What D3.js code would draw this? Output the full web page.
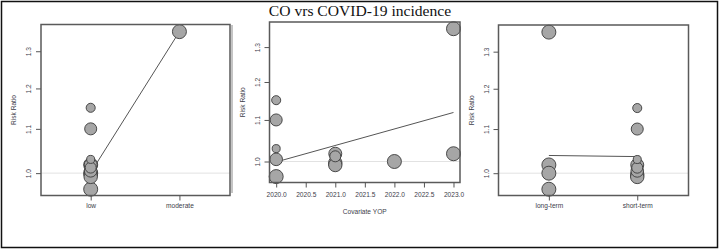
<html>
<head>
<script src="https://d3js.org/d3.v7.min.js"></script>
<style>
    body { margin: 0; background: #fff; }
    .box { fill: none; stroke: #5a5a5a; stroke-width: 1.5px; }
    .refline { stroke: #e2e2e2; stroke-width: 1px; }
    .fit { stroke: #555; stroke-width: 1px; fill: none; }
    .pt { fill: #a6a6a6; stroke: #3a3a3a; stroke-width: 0.9px; }
    .lbl { font-family: "Liberation Sans", Arial, sans-serif; font-size: 6.6px; fill: #3d3d4a; }
</style>
</head>
<body>
<svg id="chart" width="719" height="250"></svg>
<script>
// study-level data
const riskRatio = [1.356, 1.018, 1.000, 0.966, 1.151, 1.100, 1.030, 1.005, 1.018, 1.012, 0.997, 0.992];
const weight    = [10, 10, 10, 10, 4.2, 7.4, 3.3, 8.1, 8.6, 6.2, 9.2, 9.2];
const exposure  = ["moderate", "low", "low", "low", "low", "low", "low", "low", "low", "low", "low", "low"];
const yop       = [2023, 2023, 2022, 2020, 2020, 2020, 2020, 2020, 2021, 2021, 2021, 2021];
const term      = ["long-term", "long-term", "long-term", "long-term", "short-term", "short-term", "short-term",
                   "short-term", "short-term", "short-term", "short-term", "short-term"];

const exposureLevels = ["low", "moderate"];
const termLevels = ["long-term", "short-term"];
const yopTicks = [2020.0, 2020.5, 2021.0, 2021.5, 2022.0, 2022.5, 2023.0];
const rrTicks = [1.0, 1.1, 1.2, 1.3];

// fitted values from the meta-regressions
const fitExposure = [1.001, 1.356];
const fitYopX = [2020, 2023];
const fitYop = [0.999, 1.119];
const fitTerm = [1.039, 1.0365];

const svg = d3.select("#chart");

svg.append("rect").attr("x", 1.5).attr("y", 1.5).attr("width", 716).attr("height", 246)
    .attr("fill", "none").attr("stroke", "#111").attr("stroke-width", 1.5);

svg.append("line").attr("x1", 232).attr("x2", 232).attr("y1", 25).attr("y2", 193)
    .attr("stroke", "#8a8a8a").attr("stroke-width", 1);

svg.append("text")
    .attr("x", 360).attr("y", 16)
    .attr("text-anchor", "middle")
    .style("font-family", "'Liberation Serif', 'Times New Roman', serif")
    .style("font-size", "15.6px")
    .attr("fill", "#111")
    .text("CO vrs COVID-19 incidence");

const rScale = d3.scaleSqrt().domain([0, 10]).range([0, 7]);

const studies = riskRatio.map((v, i) => ({
    rr: v, w: weight[i], exposure: exposure[i], yop: yop[i], term: term[i]
}));

function drawPanel(p) {
    const x = p.x;
    const y = d3.scaleLog().domain([0.953, 1.377]).range([p.y1, p.y0]);
    const g = svg.append("g");

    g.append("line").attr("class", "refline")
        .attr("x1", p.x0).attr("x2", p.x1)
        .attr("y1", y(1)).attr("y2", y(1));

    g.append("path").attr("class", "fit")
        .datum(p.fit)
        .attr("d", d3.line().x(d => d[0]).y(d => y(d[1])));

    // bigger points first so small ones stay visible
    const pts = studies.slice().sort((a, b) => b.w - a.w);
    g.selectAll("circle.pt").data(pts).join("circle")
        .attr("class", "pt")
        .attr("cx", d => x(p.key(d)))
        .attr("cy", d => y(d.rr))
        .attr("r", d => rScale(d.w));

    g.append("rect").attr("class", "box")
        .attr("x", p.x0).attr("y", p.y0)
        .attr("width", p.x1 - p.x0).attr("height", p.y1 - p.y0);

    // y axis
    const ya = g.append("g").attr("transform", `translate(${p.x0},0)`)
        .call(d3.axisLeft(y).tickValues(rrTicks).tickSize(5).tickFormat(d3.format(".1f")));
    ya.select(".domain").remove();
    ya.selectAll(".tick line").attr("stroke", "#555");
    ya.selectAll(".tick text")
        .attr("class", "lbl")
        .attr("x", null).attr("dy", null)
        .attr("text-anchor", "middle")
        .attr("transform", "translate(-10,0) rotate(-90)")
        .attr("y", 0);

    // x axis
    const xa = g.append("g").attr("transform", `translate(0,${p.y1})`)
        .call(d3.axisBottom(x).tickValues(p.ticks).tickSize(5).tickFormat(p.fmt));
    xa.select(".domain").remove();
    xa.selectAll(".tick line").attr("stroke", "#555");
    xa.selectAll(".tick text").attr("class", "lbl").attr("y", p.xlabY).attr("dy", null);

    g.append("text").attr("class", "lbl")
        .attr("text-anchor", "middle")
        .attr("transform", `translate(${p.ylabX},${(p.y0 + p.y1) / 2}) rotate(-90)`)
        .text("Risk Ratio");

    if (p.xTitle) {
        g.append("text").attr("class", "lbl")
            .attr("text-anchor", "middle")
            .attr("x", (p.x0 + p.x1) / 2).attr("y", p.xTitleY)
            .text(p.xTitle);
    }
}

// panel 1: exposure level
const xExp = d3.scaleLinear().domain([0.44, 2.57]).range([41, 230]);
drawPanel({
    x0: 41, x1: 230, y0: 24.5, y1: 195.5,
    x: xExp,
    key: d => exposureLevels.indexOf(d.exposure) + 1,
    ticks: [1, 2], fmt: (d) => exposureLevels[d - 1],
    fit: fitExposure.map((v, i) => [xExp(i + 1), v]),
    ylabX: 16, xlabY: 12
});

// panel 2: year of publication
const xYop = d3.scaleLinear().domain([2019.887, 2023.11]).range([269.5, 460]);
drawPanel({
    x0: 269.5, x1: 460, y0: 22, y1: 182.5,
    x: xYop,
    key: d => d.yop,
    ticks: yopTicks, fmt: d3.format(".1f"),
    fit: fitYop.map((v, i) => [xYop(fitYopX[i]), v]),
    ylabX: 245, xlabY: 14,
    xTitle: "Covariate YOP", xTitleY: 214
});

// panel 3: exposure duration
const xTerm = d3.scaleLinear().domain([0.43, 2.58]).range([498.5, 688.5]);
drawPanel({
    x0: 498.5, x1: 688.5, y0: 25, y1: 195.5,
    x: xTerm,
    key: d => termLevels.indexOf(d.term) + 1,
    ticks: [1, 2], fmt: (d) => termLevels[d - 1],
    fit: fitTerm.map((v, i) => [xTerm(i + 1), v]),
    ylabX: 474, xlabY: 12
});
</script>
</body>
</html>
